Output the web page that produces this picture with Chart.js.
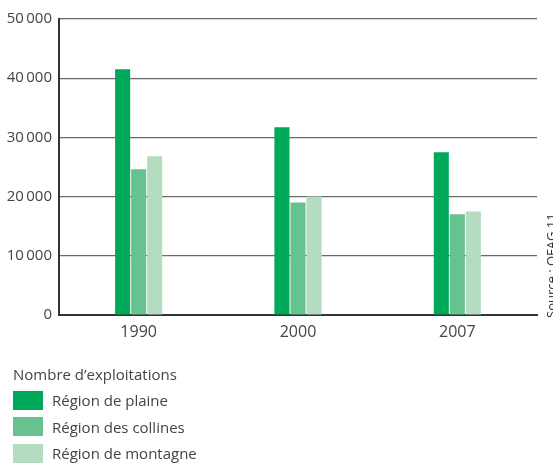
<!DOCTYPE html>
<html>
<head>
<meta charset="utf-8">
<script src="https://cdn.jsdelivr.net/npm/chart.js@4/dist/chart.umd.min.js"></script>
<style>
  html, body { margin: 0; padding: 0; background: #fff; }
  #wrap { position: relative; width: 553px; height: 465px; overflow: hidden; font-family: "Open Sans", sans-serif; color: #444; }
  #c { position: absolute; left: 0; top: 0; }
  #legend { position: absolute; left: 13px; top: 363px; font-size: 15px; }
  #legend .title { height: 22px; line-height: 22px; margin-bottom: 2px; }
  #legend .item { height: 26.5px; display: flex; align-items: center; }
  #legend .sw { width: 30px; height: 19px; margin-right: 9px; }
  #source { position: absolute; left: 542px; top: 318px; transform-origin: 0 0; transform: rotate(-90deg); font-size: 13px; white-space: nowrap; color: #333; }
</style>
</head>
<body>
<div id="wrap">
  <canvas id="c" width="553" height="465"></canvas>
  <div id="legend"></div>
  <div id="source">Source : OFAG 11</div>
</div>
<script>
const categories = ["1990", "2000", "2007"];
const seriesNames = ["Région de plaine", "Région des collines", "Région de montagne"];
const plaine = [41500, 31700, 27500];
const collines = [24600, 19000, 17000];
const montagne = [26800, 20000, 17500];
const yTicks = [0, 10000, 20000, 30000, 40000, 50000];
const legendTitle = "Nombre d’exploitations";
const colors = ["#00a85a", "#66c28e", "#b3dcc0"];

const seriesValues = [plaine, collines, montagne];

const legend = document.getElementById('legend');
legend.innerHTML = '<div class="title">' + legendTitle + '</div>' +
  seriesNames.map((n, i) => '<div class="item"><div class="sw" style="background:' + colors[i] + '"></div><span>' + n + '</span></div>').join('');

function fmt(v) {
  return v === 0 ? '0' : String(v).replace(/\B(?=(\d{3})+(?!\d))/g, '\u2009');
}

new Chart(document.getElementById('c'), {
  type: 'bar',
  data: {
    labels: categories,
    datasets: seriesNames.map((n, i) => ({
      label: n,
      data: seriesValues[i],
      backgroundColor: colors[i],
      borderWidth: 0,
      categoryPercentage: 0.302,
      barPercentage: 0.94
    }))
  },
  options: {
    responsive: false,
    animation: false,
    layout: { padding: { top: 19, right: 16, bottom: 0, left: 0 } },
    plugins: { legend: { display: false }, tooltip: { enabled: false } },
    scales: {
      x: {
        grid: { display: false, drawTicks: false },
        border: { display: true, color: '#333', width: 2 },
        ticks: { color: '#444', font: { family: 'Open Sans', size: 16 }, padding: 8 },
        afterFit(s) { s.height = 150; }
      },
      y: {
        min: 0, max: 50000,
        afterBuildTicks(s) { s.ticks = yTicks.map(v => ({ value: v })); },
        grid: { color: '#6a6a6a', lineWidth: 1.2, drawTicks: false },
        border: { display: true, color: '#333', width: 2 },
        ticks: { color: '#444', font: { family: 'Open Sans', size: 15 }, padding: 7, callback: v => fmt(v) },
        afterFit(s) { s.width = 59; }
      }
    }
  }
});
</script>
</body>
</html>
